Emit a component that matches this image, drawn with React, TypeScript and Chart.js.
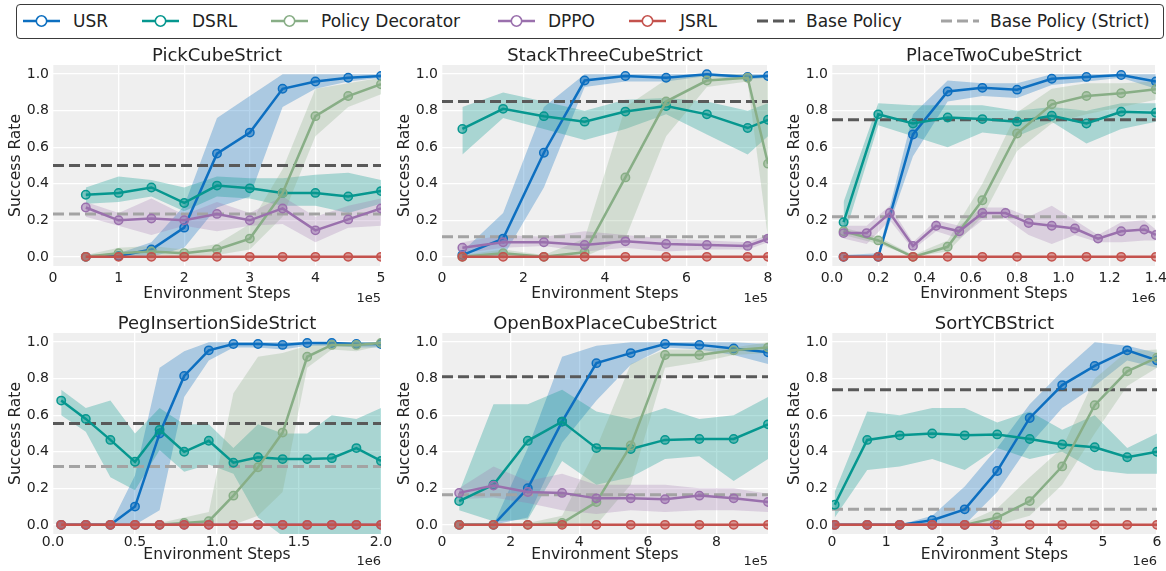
import React, { useEffect, useRef } from 'react';
import { Chart, registerables } from 'chart.js';
Chart.register(...registerables);

// ---------------- data ----------------
const methodNames = ['USR', 'DSRL', 'Policy Decorator', 'DPPO', 'JSRL'];
const baseNames = ['Base Policy', 'Base Policy (Strict)'];
const yTicks = [0, 0.2, 0.4, 0.6, 0.8, 1.0];

// PickCubeStrict (x in 1e5 steps)
const pickX = [0.5, 1, 1.5, 2, 2.5, 3, 3.5, 4, 4.5, 5];
const pickXTicks = [0, 1, 2, 3, 4, 5];
const pickUSR = [0.0, 0.005, 0.04, 0.16, 0.565, 0.68, 0.92, 0.96, 0.98, 0.99];
const pickUSRLo = [0, 0, 0, 0.05, 0.27, 0.33, 0.82, 0.92, 0.96, 0.98];
const pickUSRHi = [0.01, 0.02, 0.08, 0.28, 0.76, 0.88, 1.0, 1.0, 1.0, 1.0];
const pickDSRL = [0.34, 0.35, 0.38, 0.295, 0.39, 0.375, 0.35, 0.35, 0.33, 0.36];
const pickDSRLLo = [0.29, 0.3, 0.33, 0.25, 0.33, 0.32, 0.28, 0.28, 0.24, 0.29];
const pickDSRLHi = [0.38, 0.44, 0.42, 0.38, 0.44, 0.43, 0.43, 0.45, 0.46, 0.42];
const pickPD = [0.0, 0.02, 0.03, 0.02, 0.04, 0.1, 0.35, 0.77, 0.88, 0.945];
const pickPDLo = [0, 0, 0.01, 0, 0.01, 0.04, 0.22, 0.66, 0.82, 0.89];
const pickPDHi = [0.01, 0.05, 0.06, 0.04, 0.07, 0.18, 0.48, 0.92, 0.95, 0.98];
const pickDPPO = [0.27, 0.2, 0.21, 0.2, 0.235, 0.2, 0.265, 0.145, 0.205, 0.265];
const pickDPPOLo = [0.22, 0.17, 0.12, 0.17, 0.14, 0.17, 0.18, 0.08, 0.16, 0.17];
const pickDPPOHi = [0.3, 0.24, 0.32, 0.23, 0.3, 0.24, 0.33, 0.22, 0.28, 0.32];
const pickJSRL = [0, 0, 0, 0, 0, 0, 0, 0, 0, 0];
const pickBase = 0.5;
const pickStrict = 0.235;

// StackThreeCubeStrict (x in 1e5 steps)
const stackX = [0.5, 1.5, 2.5, 3.5, 4.5, 5.5, 6.5, 7.5, 8.0];
const stackXTicks = [0, 2, 4, 6, 8];
const stackUSR = [0.01, 0.1, 0.57, 0.965, 0.99, 0.98, 1.0, 0.985, 0.99];
const stackUSRLo = [0, 0, 0.38, 0.93, 0.96, 0.96, 0.99, 0.97, 0.98];
const stackUSRHi = [0.03, 0.24, 0.82, 1.0, 1.0, 1.0, 1.0, 1.0, 1.0];
const stackDSRL = [0.7, 0.81, 0.77, 0.74, 0.795, 0.825, 0.78, 0.705, 0.75];
const stackDSRLLo = [0.56, 0.76, 0.7, 0.64, 0.7, 0.78, 0.67, 0.56, 0.66];
const stackDSRLHi = [0.82, 0.9, 0.85, 0.8, 0.86, 0.87, 0.85, 0.8, 0.84];
const stackPD = [0.0, 0.02, 0.0, 0.025, 0.435, 0.85, 0.965, 0.98, 0.51];
const stackPDLo = [0, 0, 0, 0, 0.1, 0.66, 0.93, 0.96, 0.1];
const stackPDHi = [0.01, 0.04, 0.01, 0.1, 0.82, 0.97, 1.0, 1.0, 0.98];
const stackDPPO = [0.05, 0.08, 0.08, 0.065, 0.085, 0.07, 0.065, 0.06, 0.1];
const stackDPPOLo = [0.02, 0.05, 0.06, 0.03, 0.05, 0.03, 0.04, 0.04, 0.08];
const stackDPPOHi = [0.08, 0.12, 0.11, 0.14, 0.12, 0.1, 0.09, 0.08, 0.12];
const stackJSRL = [0, 0, 0, 0, 0, 0, 0, 0, 0];
const stackBase = 0.85;
const stackStrict = 0.11;

// PlaceTwoCubeStrict (x in 1e6 steps)
const placeX = [0.05, 0.2, 0.35, 0.5, 0.65, 0.8, 0.95, 1.1, 1.25, 1.4];
const placeXTicks = [0, 0.2, 0.4, 0.6, 0.8, 1.0, 1.2, 1.4];
const placeUSR = [0, 0, 0.67, 0.905, 0.925, 0.915, 0.975, 0.985, 0.995, 0.96];
const placeUSRLo = [0, 0, 0.55, 0.85, 0.88, 0.87, 0.94, 0.96, 0.98, 0.92];
const placeUSRHi = [0.01, 0.02, 0.78, 0.965, 0.95, 0.95, 1.0, 1.0, 1.0, 1.0];
const placeDSRL = [0.19, 0.78, 0.73, 0.763, 0.754, 0.74, 0.772, 0.73, 0.794, 0.789];
const placeDSRLLo = [0.1, 0.72, 0.66, 0.6, 0.68, 0.66, 0.74, 0.62, 0.7, 0.74];
const placeDSRLHi = [0.3, 0.84, 0.83, 0.83, 0.83, 0.8, 0.82, 0.8, 0.84, 0.84];
const placePD = [0.14, 0.09, 0.0, 0.055, 0.31, 0.675, 0.835, 0.88, 0.895, 0.917];
const placePDLo = [0.12, 0.07, 0, 0.03, 0.22, 0.58, 0.73, 0.78, 0.82, 0.86];
const placePDHi = [0.16, 0.11, 0.01, 0.09, 0.4, 0.79, 0.92, 0.95, 0.95, 0.96];
const placeDPPOX = [0.05, 0.15, 0.25, 0.35, 0.45, 0.55, 0.65, 0.75, 0.85, 0.95, 1.05, 1.15, 1.25, 1.35, 1.4];
const placeDPPO = [0.13, 0.13, 0.24, 0.06, 0.17, 0.14, 0.24, 0.24, 0.185, 0.17, 0.155, 0.1, 0.14, 0.15, 0.12];
const placeDPPOLo = [0.1, 0.07, 0.2, 0.04, 0.14, 0.1, 0.2, 0.21, 0.12, 0.07, 0.12, 0.08, 0.08, 0.09, 0.09];
const placeDPPOHi = [0.17, 0.17, 0.28, 0.08, 0.2, 0.17, 0.27, 0.27, 0.22, 0.28, 0.2, 0.12, 0.19, 0.2, 0.15];
const placeJSRL = [0, 0, 0, 0, 0, 0, 0, 0, 0, 0];
const placeBase = 0.75;
const placeStrict = 0.22;

// PegInsertionSideStrict (x in 1e6 steps)
const pegX = [0.05, 0.2, 0.35, 0.5, 0.65, 0.8, 0.95, 1.1, 1.25, 1.4, 1.55, 1.7, 1.85, 2.0];
const pegXTicks = [0, 0.5, 1.0, 1.5, 2.0];
const pegUSR = [0, 0, 0, 0.1, 0.5, 0.815, 0.955, 0.99, 0.99, 0.985, 0.995, 0.995, 0.99, 0.99];
const pegUSRLo = [0, 0, 0, 0, 0.08, 0.7, 0.9, 0.97, 0.97, 0.96, 0.98, 0.98, 0.97, 0.97];
const pegUSRHi = [0, 0, 0, 0.27, 0.86, 0.95, 1.0, 1.0, 1.0, 1.0, 1.0, 1.0, 1.0, 1.0];
const pegDSRL = [0.68, 0.58, 0.465, 0.345, 0.52, 0.4, 0.46, 0.34, 0.37, 0.36, 0.36, 0.365, 0.42, 0.35];
const pegDSRLLo = [0.6, 0.51, 0.26, 0.19, 0.41, 0.29, 0.33, 0.28, 0.04, -0.06, -0.06, -0.06, -0.06, -0.06];
const pegDSRLHi = [0.74, 0.64, 0.68, 0.5, 0.64, 0.55, 0.55, 0.42, 0.55, 0.5, 0.5, 0.6, 0.58, 0.64];
const pegPD = [0, 0, 0, 0, 0, 0.01, 0.02, 0.16, 0.315, 0.505, 0.92, 0.985, 0.985, 0.995];
const pegPDLo = [0, 0, 0, 0, 0, 0, 0, 0, 0.05, 0.18, 0.86, 0.96, 0.95, 0.98];
const pegPDHi = [0.01, 0.01, 0.01, 0.01, 0.01, 0.04, 0.07, 0.72, 0.92, 0.94, 0.98, 1.0, 1.0, 1.0];
const pegDPPO = [0, 0, 0, 0, 0, 0, 0, 0, 0, 0, 0, 0, 0, 0];
const pegJSRL = [0, 0, 0, 0, 0, 0, 0, 0, 0, 0, 0, 0, 0, 0];
const pegBase = 0.555;
const pegStrict = 0.32;

// OpenBoxPlaceCubeStrict (x in 1e5 steps)
const boxX = [0.5, 1.5, 2.5, 3.5, 4.5, 5.5, 6.5, 7.5, 8.5, 9.5];
const boxXTicks = [0, 2, 4, 6, 8];
const boxUSR = [0, 0, 0.2, 0.565, 0.885, 0.94, 0.99, 0.985, 0.965, 0.945];
const boxUSRLo = [0, 0, 0.04, 0.45, 0.68, 0.876, 0.97, 0.96, 0.93, 0.88];
const boxUSRHi = [0, 0, 0.42, 0.92, 0.98, 1.0, 1.0, 1.0, 1.0, 0.99];
const boxDSRL = [0.13, 0.22, 0.46, 0.565, 0.42, 0.415, 0.465, 0.47, 0.47, 0.55];
const boxDSRLLo = [0.08, 0.02, 0.03, 0.35, 0.22, 0.26, 0.36, 0.375, 0.24, 0.36];
const boxDSRLHi = [0.18, 0.66, 0.66, 0.74, 0.62, 0.58, 0.64, 0.58, 0.6, 0.7];
const boxPD = [0, 0, 0, 0.01, 0.125, 0.435, 0.93, 0.93, 0.955, 0.97];
const boxPDLo = [0, 0, 0, 0, 0, 0.22, 0.86, 0.89, 0.93, 0.94];
const boxPDHi = [0, 0, 0.01, 0.05, 0.42, 0.88, 0.96, 0.96, 0.97, 1.0];
const boxDPPO = [0.175, 0.215, 0.18, 0.175, 0.145, 0.145, 0.14, 0.16, 0.145, 0.125];
const boxDPPOLo = [0.14, 0.15, 0.12, 0.08, 0.06, 0.08, 0.07, 0.08, 0.08, 0.07];
const boxDPPOHi = [0.2, 0.32, 0.24, 0.28, 0.22, 0.22, 0.22, 0.2, 0.2, 0.17];
const boxJSRL = [0, 0, 0, 0, 0, 0, 0, 0, 0, 0];
const boxBase = 0.81;
const boxStrict = 0.165;

// SortYCBStrict (x in 1e6 steps)
const sortX = [0.05, 0.65, 1.25, 1.85, 2.45, 3.05, 3.65, 4.25, 4.85, 5.45, 6.0];
const sortXTicks = [0, 1, 2, 3, 4, 5, 6];
const sortUSR = [0, 0, 0, 0.025, 0.085, 0.295, 0.585, 0.765, 0.87, 0.955, 0.9];
const sortUSRLo = [0, 0, 0, 0, 0, 0.18, 0.44, 0.64, 0.76, 0.9, 0.86];
const sortUSRHi = [0, 0, 0, 0.05, 0.21, 0.42, 0.66, 0.84, 1.0, 0.98, 0.94];
const sortDSRL = [0.11, 0.465, 0.49, 0.5, 0.49, 0.495, 0.47, 0.44, 0.425, 0.37, 0.4];
const sortDSRLLo = [0.04, 0.3, 0.32, 0.36, 0.3, 0.42, 0.36, 0.4, 0.3, 0.28, 0.28];
const sortDSRLHi = [0.18, 0.62, 0.6, 0.64, 0.64, 0.56, 0.62, 0.52, 0.6, 0.42, 0.5];
const sortPD = [0, 0, 0, 0, 0, 0.04, 0.13, 0.32, 0.655, 0.84, 0.915];
const sortPDLo = [0, 0, 0, 0, 0, 0, 0.05, 0.22, 0.5, 0.76, 0.86];
const sortPDHi = [0, 0, 0, 0, 0.01, 0.09, 0.26, 0.42, 0.8, 0.95, 0.96];
const sortDPPOX = [0.05, 0.65, 1.25, 1.85, 2.45, 3.0];
const sortDPPO = [0, 0, 0, 0, 0, 0];
const sortJSRL = [0, 0, 0, 0, 0, 0, 0, 0, 0, 0, 0];
const sortBase = 0.74;
const sortStrict = 0.085;

// ---------------- styles ----------------
const FONT = '"DejaVu Sans", sans-serif';
const TEXT = '#222222';
const LINE_C = ['#0d6fc0', '#06978f', '#88ae86', '#9a70ad', '#c4524d'];
const MARK_C = ['rgba(13,111,192,0.5)', 'rgba(6,151,143,0.5)', 'rgba(136,174,134,0.5)', 'rgba(154,112,173,0.5)', 'rgba(196,82,77,0.55)'];
const BAND_C = ['rgba(13,111,192,0.3)', 'rgba(6,151,143,0.3)', 'rgba(136,174,134,0.28)', 'rgba(154,112,173,0.25)', 'rgba(196,82,77,0.25)'];
const BASE_C = ['#595959', '#a3a3a3'];

const ROWS = [
  { xH: 40, tickPad: 4, xTitlePad: 3, expOff: 35.7, titleGap: 4 },
  { xH: 36, tickPad: 0, xTitlePad: 6, expOff: 31, titleGap: 4 },
];
const COLS = [[53, 381], [442, 768], [832, 1157]];
const ROW_Y = [[65, 266], [333, 534]];
const Y_AXIS_W = 53;
const TOP_PAD = 30;
const RIGHT_PAD = 14;

type Series = { x: number[]; m: number[]; lo?: number[]; hi?: number[] };
type Panel = {
  title: string; row: number; col: number; xMax: number; xTicks: number[]; xDec: number; exp: string;
  series: Series[]; base: number; strict: number;
};

const PANELS: Panel[] = [
  {
    title: 'PickCubeStrict', row: 0, col: 0, xMax: 5, xTicks: pickXTicks, xDec: 0, exp: '1e5',
    series: [
      { x: pickX, m: pickUSR, lo: pickUSRLo, hi: pickUSRHi },
      { x: pickX, m: pickDSRL, lo: pickDSRLLo, hi: pickDSRLHi },
      { x: pickX, m: pickPD, lo: pickPDLo, hi: pickPDHi },
      { x: pickX, m: pickDPPO, lo: pickDPPOLo, hi: pickDPPOHi },
      { x: pickX, m: pickJSRL },
    ], base: pickBase, strict: pickStrict,
  },
  {
    title: 'StackThreeCubeStrict', row: 0, col: 1, xMax: 8, xTicks: stackXTicks, xDec: 0, exp: '1e5',
    series: [
      { x: stackX, m: stackUSR, lo: stackUSRLo, hi: stackUSRHi },
      { x: stackX, m: stackDSRL, lo: stackDSRLLo, hi: stackDSRLHi },
      { x: stackX, m: stackPD, lo: stackPDLo, hi: stackPDHi },
      { x: stackX, m: stackDPPO, lo: stackDPPOLo, hi: stackDPPOHi },
      { x: stackX, m: stackJSRL },
    ], base: stackBase, strict: stackStrict,
  },
  {
    title: 'PlaceTwoCubeStrict', row: 0, col: 2, xMax: 1.4, xTicks: placeXTicks, xDec: 1, exp: '1e6',
    series: [
      { x: placeX, m: placeUSR, lo: placeUSRLo, hi: placeUSRHi },
      { x: placeX, m: placeDSRL, lo: placeDSRLLo, hi: placeDSRLHi },
      { x: placeX, m: placePD, lo: placePDLo, hi: placePDHi },
      { x: placeDPPOX, m: placeDPPO, lo: placeDPPOLo, hi: placeDPPOHi },
      { x: placeX, m: placeJSRL },
    ], base: placeBase, strict: placeStrict,
  },
  {
    title: 'PegInsertionSideStrict', row: 1, col: 0, xMax: 2.0, xTicks: pegXTicks, xDec: 1, exp: '1e6',
    series: [
      { x: pegX, m: pegUSR, lo: pegUSRLo, hi: pegUSRHi },
      { x: pegX, m: pegDSRL, lo: pegDSRLLo, hi: pegDSRLHi },
      { x: pegX, m: pegPD, lo: pegPDLo, hi: pegPDHi },
      { x: pegX, m: pegDPPO },
      { x: pegX, m: pegJSRL },
    ], base: pegBase, strict: pegStrict,
  },
  {
    title: 'OpenBoxPlaceCubeStrict', row: 1, col: 1, xMax: 9.5, xTicks: boxXTicks, xDec: 0, exp: '1e5',
    series: [
      { x: boxX, m: boxUSR, lo: boxUSRLo, hi: boxUSRHi },
      { x: boxX, m: boxDSRL, lo: boxDSRLLo, hi: boxDSRLHi },
      { x: boxX, m: boxPD, lo: boxPDLo, hi: boxPDHi },
      { x: boxX, m: boxDPPO, lo: boxDPPOLo, hi: boxDPPOHi },
      { x: boxX, m: boxJSRL },
    ], base: boxBase, strict: boxStrict,
  },
  {
    title: 'SortYCBStrict', row: 1, col: 2, xMax: 6, xTicks: sortXTicks, xDec: 0, exp: '1e6',
    series: [
      { x: sortX, m: sortUSR, lo: sortUSRLo, hi: sortUSRHi },
      { x: sortX, m: sortDSRL, lo: sortDSRLLo, hi: sortDSRLHi },
      { x: sortX, m: sortPD, lo: sortPDLo, hi: sortPDHi },
      { x: sortDPPOX, m: sortDPPO },
      { x: sortX, m: sortJSRL },
    ], base: sortBase, strict: sortStrict,
  },
];

const pts = (xs: number[], ys: number[]) => xs.map((x, i) => ({ x, y: ys[i] }));

function geom(p: Panel) {
  const [L, R] = COLS[p.col];
  const [T, B] = ROW_Y[p.row];
  const rc = ROWS[p.row];
  return {
    left: L - Y_AXIS_W,
    top: T - TOP_PAD,
    width: R - L + Y_AXIS_W + RIGHT_PAD,
    height: TOP_PAD + (B - T) + rc.xH,
  };
}

function buildConfig(p: Panel): any {
  const rc = ROWS[p.row];
  const datasets: any[] = [];
  // bands
  p.series.forEach((s, i) => {
    if (!s.lo || !s.hi) return;
    const loIdx = datasets.length;
    datasets.push({
      data: pts(s.x, s.lo), borderColor: 'transparent', borderWidth: 0, pointRadius: 0,
      fill: false, order: 401 - i * 10,
    });
    datasets.push({
      data: pts(s.x, s.hi), borderColor: 'transparent', borderWidth: 0, pointRadius: 0,
      backgroundColor: BAND_C[i],
      fill: { target: loIdx, above: BAND_C[i], below: BAND_C[i] }, order: 400 - i * 10,
    });
  });
  // base policy lines
  [p.base, p.strict].forEach((v, j) => {
    datasets.push({
      data: [{ x: 0, y: v }, { x: p.xMax, y: v }], borderColor: BASE_C[j], borderWidth: 3,
      borderDash: [11, 5], pointRadius: 0, fill: false, order: 60 - j,
    });
  });
  // method lines
  p.series.forEach((s, i) => {
    datasets.push({
      label: methodNames[i],
      data: pts(s.x, s.m), borderColor: LINE_C[i], backgroundColor: MARK_C[i], borderWidth: 2.5,
      pointRadius: 4.2, pointBorderWidth: 1.5, pointBorderColor: LINE_C[i], pointBackgroundColor: MARK_C[i],
      fill: false, tension: 0, order: 40 - i, clip: 0,
    });
  });

  const decor = {
    id: 'decor',
    beforeDraw(chart: any) {
      const { ctx, chartArea: a } = chart;
      ctx.save();
      ctx.fillStyle = '#efefef';
      ctx.fillRect(a.left, a.top, a.right - a.left, a.bottom - a.top);
      ctx.restore();
    },
    afterDraw(chart: any) {
      const { ctx, chartArea: a } = chart;
      ctx.save();
      ctx.fillStyle = TEXT;
      ctx.font = `18px ${FONT}`;
      ctx.textAlign = 'center';
      ctx.textBaseline = 'alphabetic';
      ctx.fillText(p.title, (a.left + a.right) / 2, a.top - rc.titleGap);
      ctx.font = `13px ${FONT}`;
      ctx.textAlign = 'right';
      ctx.fillText(p.exp, a.right, a.bottom + rc.expOff);
      ctx.restore();
    },
  };

  return {
    type: 'line',
    data: { datasets },
    plugins: [decor],
    options: {
      responsive: false,
      animation: false,
      devicePixelRatio: 1,
      events: [],
      layout: { padding: { top: TOP_PAD, right: RIGHT_PAD, left: 0, bottom: 0 } },
      plugins: { legend: { display: false }, tooltip: { enabled: false }, title: { display: false } },
      scales: {
        x: {
          type: 'linear', min: 0, max: p.xMax,
          afterFit: (s: any) => { s.height = rc.xH; },
          afterBuildTicks: (s: any) => { s.ticks = p.xTicks.map((v) => ({ value: v })); },
          ticks: {
            callback: (v: any) => Number(v).toFixed(p.xDec), padding: rc.tickPad, color: TEXT,
            font: { family: FONT, size: 14 }, maxRotation: 0, autoSkip: false,
          },
          grid: { color: '#ffffff', lineWidth: 1.3, drawTicks: false },
          border: { display: false },
          title: {
            display: true, text: 'Environment Steps', color: TEXT, font: { family: FONT, size: 15.5 },
            padding: { top: 0, bottom: rc.xTitlePad },
          },
        },
        y: {
          type: 'linear', min: -0.05, max: 1.05,
          afterFit: (s: any) => { s.width = Y_AXIS_W; },
          afterBuildTicks: (s: any) => { s.ticks = yTicks.map((v) => ({ value: v })); },
          ticks: {
            callback: (v: any) => Number(v).toFixed(1), padding: 4, color: TEXT,
            font: { family: FONT, size: 14 },
          },
          grid: { color: '#ffffff', lineWidth: 1.3, drawTicks: false },
          border: { display: false },
          title: {
            display: true, text: 'Success Rate', color: TEXT, font: { family: FONT, size: 15.5 },
            padding: { top: 6.7, bottom: 0 },
          },
        },
      },
    },
  };
}

// legend layout
const LEGEND_POS = [
  { hx: 23, tx: 73 },
  { hx: 142, tx: 192 },
  { hx: 271, tx: 321 },
  { hx: 498, tx: 548 },
  { hx: 629, tx: 680 },
  { hx: 757, tx: 806 },
  { hx: 941, tx: 990 },
];

function Legend() {
  const items = [
    ...methodNames.map((n, i) => ({ name: n, dashed: false, color: LINE_C[i] })),
    ...baseNames.map((n, j) => ({ name: n, dashed: true, color: BASE_C[j] })),
  ];
  return (
    <div style={{ position: 'absolute', left: 0, top: 0, width: 1166, height: 44, zIndex: 5 }}>
      <div style={{
        position: 'absolute', left: 16, top: 4, width: 1146, height: 33,
        border: '1.2px solid #3a3a3a', borderRadius: 4, background: '#fff',
      }} />
      {items.map((it, k) => {
        const pos = LEGEND_POS[k];
        return (
          <React.Fragment key={it.name}>
            <svg style={{ position: 'absolute', left: pos.hx, top: 13 }} width={38} height={16}>
              {it.dashed ? (
                <line x1={0} y1={8} x2={38} y2={8} stroke={it.color} strokeWidth={3} strokeDasharray="11 5" />
              ) : (
                <>
                  <line x1={0} y1={8} x2={37} y2={8} stroke={it.color} strokeWidth={2.5} />
                  <circle cx={18.5} cy={8} r={5.2} fill="#ffffff" stroke={it.color} strokeWidth={1.6} />
                </>
              )}
            </svg>
            <span style={{
              position: 'absolute', left: pos.tx, top: 10, fontFamily: FONT, fontSize: 17,
              lineHeight: '22px', color: TEXT, whiteSpace: 'nowrap',
            }}>{it.name}</span>
          </React.Fragment>
        );
      })}
    </div>
  );
}

function PanelChart({ p }: { p: Panel }) {
  const ref = useRef<HTMLCanvasElement | null>(null);
  const g = geom(p);
  useEffect(() => {
    if (!ref.current) return;
    const chart = new Chart(ref.current, buildConfig(p));
    return () => chart.destroy();
  }, [p]);
  return (
    <div style={{ position: 'absolute', left: g.left, top: g.top, width: g.width, height: g.height }}>
      <canvas ref={ref} width={g.width} height={g.height} style={{ width: g.width, height: g.height, display: 'block' }} />
    </div>
  );
}

export default function App() {
  return (
    <div style={{
      position: 'absolute', left: 0, top: 0, width: 1166, height: 571, overflow: 'hidden',
      background: '#ffffff', fontFamily: FONT,
    }}>
      {PANELS.map((p) => <PanelChart key={p.title} p={p} />)}
      <Legend />
    </div>
  );
}
